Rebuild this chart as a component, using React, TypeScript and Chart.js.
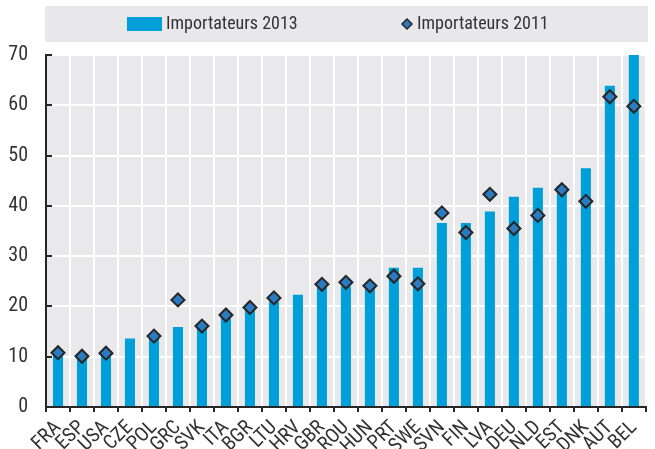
import React, { useEffect, useRef } from "react";
import { Chart, registerables } from "chart.js";

Chart.register(...registerables);

const categories = ["FRA","ESP","USA","CZE","POL","GRC","SVK","ITA","BGR","LTU","HRV","GBR","ROU","HUN","PRT","SWE","SVN","FIN","LVA","DEU","NLD","EST","DNK","AUT","BEL"];
const importateurs2013 = [10.5,9.8,10.4,13.6,14.3,15.9,16.3,18.0,19.5,21.0,22.3,23.7,24.0,24.0,27.7,27.7,36.6,36.6,38.9,41.8,43.6,44.0,47.5,63.9,70];
const importateurs2011 = [10.8,10.1,10.7,null,14.1,21.3,16.1,18.3,19.8,21.7,null,24.4,24.8,24.1,26.0,24.5,38.6,34.7,42.3,35.5,38.1,43.2,40.9,61.7,59.8];
const yTicks = [0,10,20,30,40,50,60,70];
const legendLabels = ["Importateurs 2013", "Importateurs 2011"];

const BAR = "#009fda";
const DIAMOND = "#2a7bbf";
const DARK = "#262626";
const PLOT_BG = "#e9e9ec";
const FONT = "'Roboto Condensed', 'Liberation Sans', Arial, sans-serif";

const decorPlugin = {
  id: "decor",
  beforeDraw(chart: any) {
    const { ctx, chartArea } = chart;
    ctx.save();
    ctx.fillStyle = PLOT_BG;
    ctx.fillRect(chartArea.left, chartArea.top, Math.min(chartArea.right, 648) - chartArea.left, chartArea.bottom - chartArea.top);
    // legend box
    ctx.fillStyle = "#e8e8eb";
    ctx.fillRect(45, 6, 603, 36);
    ctx.restore();
  },
  afterDraw(chart: any) {
    const { ctx, chartArea } = chart;
    const y = chart.scales.y;
    ctx.save();
    // inward y tick marks
    ctx.strokeStyle = DARK;
    ctx.lineWidth = 2;
    yTicks.forEach((v) => {
      const py = Math.round(y.getPixelForValue(v));
      ctx.beginPath();
      ctx.moveTo(chartArea.left, py);
      ctx.lineTo(chartArea.left + 6, py);
      ctx.stroke();
    });
    // legend
    ctx.font = "18px " + FONT;
    ctx.textBaseline = "middle";
    ctx.textAlign = "left";
    ctx.fillStyle = BAR;
    ctx.fillRect(127, 17, 35, 14);
    ctx.fillStyle = "#333";
    ctx.fillText(legendLabels[0], 166, 24);
    ctx.beginPath();
    ctx.moveTo(407, 19);
    ctx.lineTo(412, 24);
    ctx.lineTo(407, 29);
    ctx.lineTo(402, 24);
    ctx.closePath();
    ctx.fillStyle = DIAMOND;
    ctx.fill();
    ctx.strokeStyle = DARK;
    ctx.lineWidth = 1.5;
    ctx.stroke();
    ctx.fillStyle = "#333";
    ctx.fillText(legendLabels[1], 417, 24);
    ctx.restore();
  },
};

export default function App() {
  const ref = useRef<HTMLCanvasElement | null>(null);
  useEffect(() => {
    if (!ref.current) return;
    const chart = new Chart(ref.current, {
      type: "bar",
      data: {
        labels: categories,
        datasets: [
          {
            type: "line" as any,
            label: legendLabels[1],
            data: importateurs2011 as any,
            showLine: false,
            pointStyle: "rectRot",
            pointRadius: 6.5,
            pointHoverRadius: 6.5,
            pointBorderWidth: 2,
            pointBackgroundColor: DIAMOND,
            pointBorderColor: DARK,
            backgroundColor: DIAMOND,
            borderColor: DARK,
            order: 1,
          } as any,
          {
            type: "bar",
            label: legendLabels[0],
            data: importateurs2013,
            backgroundColor: BAR,
            barPercentage: 0.42,
            categoryPercentage: 1,
            order: 2,
          },
        ],
      },
      options: {
        responsive: true,
        maintainAspectRatio: false,
        animation: false,
        layout: { padding: { top: 55, right: 1, left: 0, bottom: 0 } },
        plugins: { legend: { display: false }, tooltip: { enabled: false } },
        scales: {
          x: {
            offset: true,
            grid: {
              offset: true,
              color: "#ffffff",
              lineWidth: 2,
              drawTicks: true,
              tickLength: 5,
              tickColor: DARK,
              tickWidth: 2,
            } as any,
            border: { display: true, color: DARK, width: 2 },
            ticks: {
              minRotation: 45,
              maxRotation: 45,
              autoSkip: false,
              padding: 4,
              color: "#333",
              font: { family: FONT, size: 20 },
            },
            afterFit(scale: any) {
              scale.height = 42;
            },
          },
          y: {
            min: 0,
            max: 70,
            grid: { color: "#ffffff", lineWidth: 2, drawTicks: false },
            border: { display: true, color: DARK, width: 2 },
            ticks: {
              stepSize: 10,
              padding: 18,
              color: "#333",
              font: { family: FONT, size: 20 },
            },
            afterFit(scale: any) {
              scale.width = 46;
            },
          },
        },
      },
      plugins: [decorPlugin],
    });
    return () => chart.destroy();
  }, []);
  return (
    <div style={{ position: "absolute", left: 0, top: 0, width: 655, height: 449 }}>
      <canvas ref={ref} />
    </div>
  );
}
